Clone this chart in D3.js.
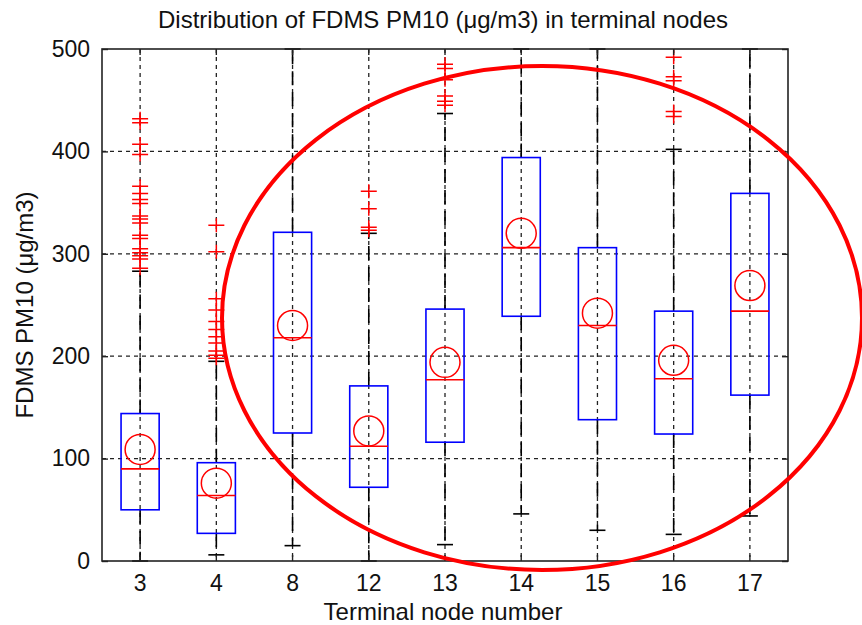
<!DOCTYPE html>
<html>
<head>
<meta charset="utf-8">
<script src="https://cdn.jsdelivr.net/npm/d3@7"></script>
<style>
  html, body { margin: 0; padding: 0; background: #fff; }
  svg { display: block; }
  text { font-family: Arial, "Liberation Sans", sans-serif; fill: #111; }
</style>
</head>
<body>
<svg id="chart" width="862" height="625"></svg>
<script>
// ---- Data ----
const categories = ["3", "4", "8", "12", "13", "14", "15", "16", "17"];
const q1          = [50, 27, 125, 72, 116, 239, 138, 124, 162];
const q3          = [144, 96, 321, 171, 246, 394, 306, 244, 359];
const medians     = [90, 64, 218, 112, 177, 306, 230, 178, 244];
const means       = [109, 76, 230, 127, 194, 320, 242, 196, 269];
const whiskerLow  = [0, 6, 15, 0, 16, 46, 30, 26, 44];
const whiskerHigh = [283, 195, 500, 320, 437, 500, 500, 402, 500];
const outliers = [
  [432, 428, 407, 397, 366, 359, 353, 349, 337, 334, 330, 318, 315, 305, 301, 298, 295, 286],
  [328, 302, 256, 245, 234, 226, 219, 213, 205, 201, 198],
  [],
  [361, 344, 326, 323],
  [485, 481, 470, 454, 449, 445],
  [],
  [],
  [492, 473, 469, 439, 434],
  []
];
const yTicks = [0, 100, 200, 300, 400, 500];
const titleText = "Distribution of FDMS PM10 (μg/m3) in terminal nodes";
const xLabelText = "Terminal node number";
const yLabelText = "FDMS PM10 (μg/m3)";

(function () {
// ---- Layout ----
const pL = 102, pR = 788, pT = 49, pB = 561;
const svg = d3.select("#chart");

const x = d3.scaleBand().domain(categories).range([pL, pR]).padding(0);
const y = d3.scaleLinear().domain([0, 500]).range([pB, pT]);
const cx = c => x(c) + x.bandwidth() / 2;
const boxW = x.bandwidth() * 0.5;
const capW = 16;

const data = categories.map((c, i) => ({
  c, q1: q1[i], q3: q3[i], med: medians[i], mean: means[i],
  lo: whiskerLow[i], hi: whiskerHigh[i], out: outliers[i]
}));

// ---- Grid ----
const grid = svg.append("g");
grid.selectAll("line.hg").data(yTicks.filter(t => t > 0 && t < 500)).join("line")
  .attr("x1", pL).attr("x2", pR)
  .attr("y1", d => y(d)).attr("y2", d => y(d))
  .attr("stroke", "#222").attr("stroke-width", 1.3).attr("stroke-dasharray", "4,4");
grid.selectAll("line.vg").data(categories).join("line")
  .attr("x1", d => cx(d)).attr("x2", d => cx(d))
  .attr("y1", pT).attr("y2", pB)
  .attr("stroke", "#222").attr("stroke-width", 1.3).attr("stroke-dasharray", "4,4");

// ---- Boxes ----
const g = svg.append("g");
const bx = g.selectAll("g.box").data(data).join("g");

bx.append("line")
  .attr("x1", d => cx(d.c)).attr("x2", d => cx(d.c))
  .attr("y1", d => y(d.q3)).attr("y2", d => y(d.hi))
  .attr("stroke", "#000").attr("stroke-width", 1.6).attr("stroke-dasharray", "14,7");
bx.append("line")
  .attr("x1", d => cx(d.c)).attr("x2", d => cx(d.c))
  .attr("y1", d => y(d.q1)).attr("y2", d => y(d.lo))
  .attr("stroke", "#000").attr("stroke-width", 1.6).attr("stroke-dasharray", "14,7");
bx.append("line")
  .attr("x1", d => cx(d.c) - capW / 2).attr("x2", d => cx(d.c) + capW / 2)
  .attr("y1", d => y(d.hi)).attr("y2", d => y(d.hi))
  .attr("stroke", "#000").attr("stroke-width", 1.6);
bx.append("line")
  .attr("x1", d => cx(d.c) - capW / 2).attr("x2", d => cx(d.c) + capW / 2)
  .attr("y1", d => y(d.lo)).attr("y2", d => y(d.lo))
  .attr("stroke", "#000").attr("stroke-width", 1.6);

bx.append("rect")
  .attr("x", d => cx(d.c) - boxW / 2).attr("width", boxW)
  .attr("y", d => y(d.q3)).attr("height", d => y(d.q1) - y(d.q3))
  .attr("fill", "none").attr("stroke", "#0000ff").attr("stroke-width", 1.6);
bx.append("line")
  .attr("x1", d => cx(d.c) - boxW / 2).attr("x2", d => cx(d.c) + boxW / 2)
  .attr("y1", d => y(d.med)).attr("y2", d => y(d.med))
  .attr("stroke", "#ff0000").attr("stroke-width", 1.6);
bx.append("circle")
  .attr("cx", d => cx(d.c)).attr("cy", d => y(d.mean)).attr("r", 15)
  .attr("fill", "none").attr("stroke", "#ff0000").attr("stroke-width", 1.5);

bx.each(function (d) {
  d3.select(this).selectAll("path.out").data(d.out).join("path")
    .attr("d", v => {
      const px = cx(d.c), py = y(v);
      return `M${px - 8},${py}H${px + 8}M${px},${py - 7}V${py + 7}`;
    })
    .attr("stroke", "#ff0000").attr("stroke-width", 1.5).attr("fill", "none");
});

// ---- Axes frame ----
const axisColor = "#222";
const yAxisL = d3.axisLeft(y).tickValues(yTicks).tickSize(-6).tickPadding(12);
const yAxisR = d3.axisRight(y).tickValues(yTicks).tickSize(-6).tickFormat("");
const xAxisB = d3.axisBottom(x).tickSize(-6).tickPadding(14);
const xAxisT = d3.axisTop(x).tickSize(-6).tickFormat("");

function styleAxis(sel) {
  sel.select(".domain").remove();
  sel.selectAll(".tick line").attr("stroke", axisColor).attr("stroke-width", 1.4);
  sel.selectAll(".tick text").style("font-size", "23px").attr("fill", "#111")
    .style("font-family", "Arial, 'Liberation Sans', sans-serif");
}
svg.append("g").attr("transform", `translate(${pL},0)`).call(yAxisL).call(styleAxis);
svg.append("g").attr("transform", `translate(${pR},0)`).call(yAxisR).call(styleAxis);
svg.append("g").attr("transform", `translate(0,${pB})`).call(xAxisB).call(styleAxis);
svg.append("g").attr("transform", `translate(0,${pT})`).call(xAxisT).call(styleAxis);
svg.append("rect").attr("x", pL).attr("y", pT).attr("width", pR - pL).attr("height", pB - pT)
  .attr("fill", "none").attr("stroke", axisColor).attr("stroke-width", 1.6);

// ---- Labels ----
svg.append("text").attr("x", 443).attr("y", 28).attr("text-anchor", "middle")
  .style("font-size", "24px").text(titleText);
svg.append("text").attr("x", 443).attr("y", 620).attr("text-anchor", "middle")
  .style("font-size", "24px").text(xLabelText);
svg.append("text").attr("transform", "translate(33,305) rotate(-90)").attr("text-anchor", "middle")
  .style("font-size", "24px").text(yLabelText);

// ---- Annotation ellipse ----
svg.append("ellipse").attr("cx", 542).attr("cy", 318).attr("rx", 320).attr("ry", 252)
  .attr("fill", "none").attr("stroke", "#ff0000").attr("stroke-width", 4);
})();
</script>
</body>
</html>
